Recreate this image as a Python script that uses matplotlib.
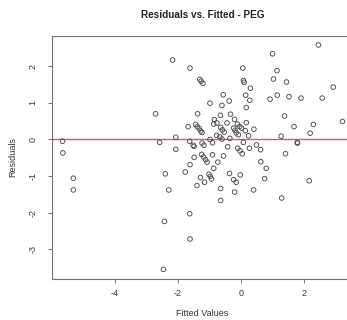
import matplotlib
matplotlib.use("Agg")
import matplotlib.pyplot as plt

plt.rcParams['font.family'] = ['Liberation Sans', 'DejaVu Sans']

# Fitted values and residuals from the PEG model
fitted = [
    -5.65, -5.64, -5.31, -5.31, -2.71, -2.58, -2.40, -2.29, -2.07, -2.07,
    -2.43, -2.46, -2.17, -1.62, -1.68, -1.63, -1.52, -1.49, -1.49, -1.62,
    -1.77, -1.40, -1.63, -1.62, -1.38, -1.31, -1.27, -1.21, -1.44, -1.39,
    -1.33, -1.28, -1.24, -1.24, -1.18, -1.25, -1.19, -1.13, -1.08, -1.29,
    -1.16, -1.02, -0.98, -0.94, -0.87, -0.91, -0.74, -0.99, -0.99, -0.91,
    -0.85, -0.87, -0.77, -0.66, -0.61, -0.57, -0.65, -0.60, -0.54, -0.45,
    -0.38, -0.34, -0.21, -0.78, -0.68, -0.61, -0.36, -0.43, -0.56, -0.37,
    -0.65, -0.65, -0.21, -0.24, -0.16, -0.03, -0.24, -0.20, -0.16, -0.12,
    -0.05, 0.01, 0.13, 0.16, 0.23, -0.09, -0.11, -0.04, 0.03, 0.07,
    0.26, 0.48, 0.61, 0.40, 0.05, 0.07, 0.09, 0.29, 0.14, 0.27,
    0.16, 0.39, 0.62, 0.79, 0.74, 0.99, 1.13, 1.02, 1.43, 0.91,
    1.14, 1.51, 1.37, 1.26, 1.40, 1.28, 1.67, 1.78, 1.77, 1.89,
    2.44, 2.91, 2.56, 2.18, 2.28, 2.15, 3.20,
]
residuals = [
    -0.05, -0.37, -1.06, -1.38, 0.70, -0.08, -0.94, -1.38, 0.06, -0.27,
    -2.24, -3.55, 2.17, 1.95, 0.35, -0.05, -0.16, -0.19, -0.49, -0.69,
    -0.89, -1.26, -2.03, -2.72, 0.70, 1.64, 1.59, 1.53, 0.41, 0.35,
    0.30, 0.23, 0.19, -0.10, -0.16, -0.41, -0.48, -0.55, -0.62, -1.04,
    -1.17, -0.95, -1.01, -1.08, -0.79, -0.42, -0.62, 0.99, 0.00, -0.09,
    0.54, 0.42, 0.45, 0.66, 0.93, 1.22, 0.33, 0.26, 0.20, 0.45,
    1.05, 0.69, 0.55, 0.11, 0.07, 0.01, 0.03, -0.20, -0.45, -0.93,
    -1.34, -1.67, -1.44, -1.10, -1.17, -0.97, 0.31, 0.25, 0.18, 0.42,
    0.35, 0.31, 0.24, 0.46, 0.10, 0.13, -0.24, -0.31, -0.39, -0.08,
    -0.24, -0.15, -0.28, 0.28, 1.95, 1.61, 1.56, 1.40, 1.21, 1.07,
    0.87, -1.38, -0.61, -0.79, -1.07, 2.34, 1.88, 1.65, 1.57, 1.10,
    1.21, 1.17, 0.64, 0.09, -0.39, -1.60, 0.35, -0.10, -0.08, 1.13,
    2.58, 1.43, 1.13, 0.17, 0.41, -1.13, 0.49,
]

x_ticks = [-4, -2, 0, 2]
y_ticks = [-3, -2, -1, 0, 1, 2]

W, H = 347, 320
fig = plt.figure(figsize=(W / 100, H / 100), dpi=100)
left, right, top, bottom = 51.5, 353.5, 35.5, 278.5
ax = fig.add_axes([left / W, 1 - bottom / H, (right - left) / W, (bottom - top) / H])

ax.scatter(fitted, residuals, s=11, facecolors='none', edgecolors='#4a4a4a',
           linewidths=0.65, zorder=3)
ax.axhline(0, color='#DF536B', lw=1.0, zorder=2)

ax.set_xlim(-6.0, 3.55)
ax.set_ylim(-3.8, 2.84)
ax.set_xticks(x_ticks)
ax.set_yticks(y_ticks)
ax.set_xticklabels([str(v) for v in x_ticks])
ax.set_yticklabels([str(v) for v in y_ticks], rotation=90, va='center')

for sp in ax.spines.values():
    sp.set_color('#707070')
    sp.set_linewidth(0.8)
ax.tick_params(axis='both', length=3.2, width=0.7, color='#707070',
               labelsize=6.5, labelcolor='#333333')
ax.tick_params(axis='x', pad=4.5)
ax.tick_params(axis='y', pad=7)

fig.text((left + right) / 2 / W, 1 - 15.5 / H, 'Residuals vs. Fitted - PEG',
         ha='center', va='center', fontsize=7.2, fontweight='bold', color='#222222')
fig.text((left + right) / 2 / W, 1 - 314 / H, 'Fitted Values',
         ha='center', va='center', fontsize=6.5, color='#333333')
fig.text(12.5 / W, 1 - (top + bottom) / 2 / H, 'Residuals', rotation=90,
         ha='center', va='center', fontsize=6.5, color='#333333')

fig.savefig('out.png', dpi=100)
